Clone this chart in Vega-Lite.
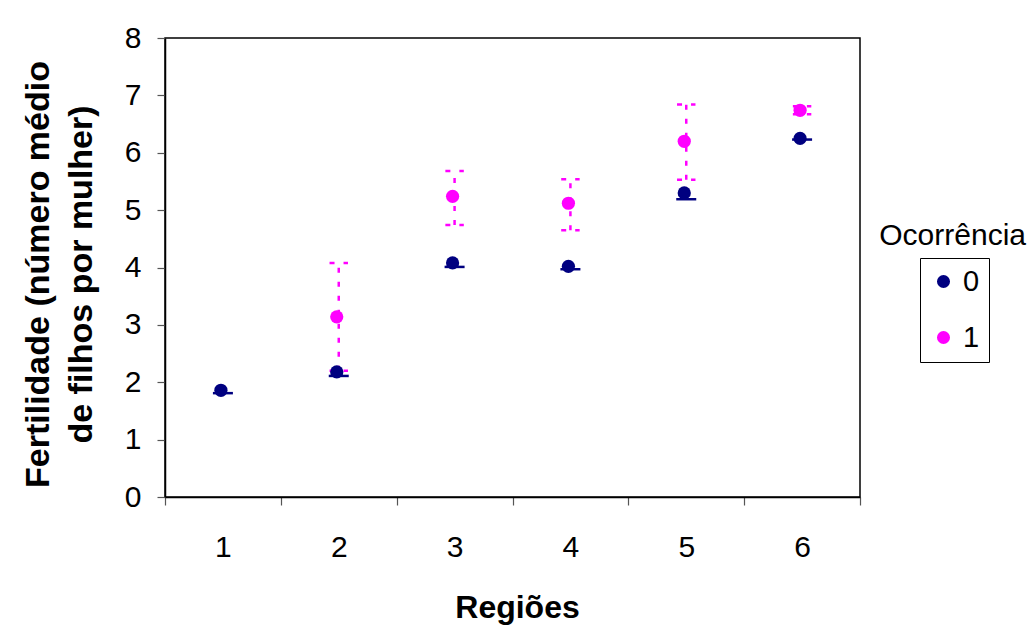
{
  "$schema": "https://vega.github.io/schema/vega-lite/v6.json",
  "width": 695,
  "height": 459,
  "autosize": {"type": "none"},
  "padding": {"left": 165, "top": 38, "right": 169, "bottom": 135},
  "background": "white",
  "title": {
    "text": "Ocorrência",
    "anchor": "end",
    "frame": "group",
    "orient": "top",
    "offset": 0,
    "dx": 166,
    "dy": 252,
    "baseline": "alphabetic",
    "font": "Liberation Sans",
    "fontSize": 30,
    "fontWeight": "normal",
    "color": "black"
  },
  "config": {
    "font": "Liberation Sans",
    "view": {"stroke": "black", "strokeWidth": 1.5},
    "axis": {
      "labelFont": "Liberation Sans",
      "labelFontSize": 30,
      "labelColor": "black",
      "titleFont": "Liberation Sans",
      "titleColor": "black",
      "domainColor": "black",
      "domainWidth": 1.5,
      "tickColor": "#555555",
      "tickWidth": 1.2,
      "tickSize": 8,
      "grid": false
    }
  },
  "data": {
    "values": [
      {"regiao": "1", "ocorrencia": "0", "fert": 1.86, "lo": 1.81, "hi": 1.86},
      {"regiao": "2", "ocorrencia": "0", "fert": 2.18, "lo": 2.11, "hi": 2.18},
      {"regiao": "3", "ocorrencia": "0", "fert": 4.08, "lo": 4.01, "hi": 4.08},
      {"regiao": "4", "ocorrencia": "0", "fert": 4.02, "lo": 3.97, "hi": 4.02},
      {"regiao": "5", "ocorrencia": "0", "fert": 5.30, "lo": 5.19, "hi": 5.30},
      {"regiao": "6", "ocorrencia": "0", "fert": 6.25, "lo": 6.23, "hi": 6.25},
      {"regiao": "2", "ocorrencia": "1", "fert": 3.14, "lo": 2.20, "hi": 4.08},
      {"regiao": "3", "ocorrencia": "1", "fert": 5.24, "lo": 4.74, "hi": 5.68},
      {"regiao": "4", "ocorrencia": "1", "fert": 5.12, "lo": 4.65, "hi": 5.54},
      {"regiao": "5", "ocorrencia": "1", "fert": 6.20, "lo": 5.53, "hi": 6.84},
      {"regiao": "6", "ocorrencia": "1", "fert": 6.74, "lo": 6.67, "hi": 6.81}
    ]
  },
  "encoding": {
    "x": {
      "field": "regiao",
      "type": "ordinal",
      "scale": {"paddingInner": 0, "paddingOuter": 0},
      "axis": {
        "title": "Regiões",
        "labelAngle": 0,
        "tickBand": "extent",
        "labelPadding": 27,
        "titleFontSize": 32,
        "titleFontWeight": "bold",
        "titleBaseline": "alphabetic",
        "titleX": 352,
        "titleY": 120
      }
    }
  },
  "resolve": {"scale": {"color": "independent"}, "legend": {"color": "independent"}},
  "layer": [
    {
      "transform": [{"filter": "datum.ocorrencia == '0'"}],
      "mark": {"type": "rule", "strokeWidth": 2.5},
      "encoding": {
        "y": {"field": "lo", "type": "quantitative"},
        "y2": {"field": "hi"},
        "color": {"field": "ocorrencia", "type": "nominal", "scale": {"domain": ["0", "1"], "range": ["#000080", "#FF00FF"]}, "legend": null}
      }
    },
    {
      "transform": [{"filter": "datum.ocorrencia == '1'"}],
      "mark": {"type": "rule", "strokeWidth": 2.5, "strokeDash": [5, 9]},
      "encoding": {
        "y": {"field": "lo", "type": "quantitative"},
        "y2": {"field": "hi"},
        "color": {"field": "ocorrencia", "type": "nominal", "scale": {"domain": ["0", "1"], "range": ["#000080", "#FF00FF"]}, "legend": null}
      }
    },
    {
      "transform": [{"filter": "datum.ocorrencia == '0'"}],
      "mark": {"type": "point", "shape": "M-1,0L1,0", "filled": false, "size": 400, "strokeWidth": 2.5, "opacity": 1},
      "encoding": {
        "y": {"field": "lo", "type": "quantitative"},
        "color": {"field": "ocorrencia", "type": "nominal", "scale": {"domain": ["0", "1"], "range": ["#000080", "#FF00FF"]}, "legend": null}
      }
    },
    {
      "transform": [{"filter": "datum.ocorrencia == '1'"}],
      "mark": {"type": "point", "shape": "M-1,0L1,0", "filled": false, "size": 340, "strokeWidth": 2.5, "strokeDash": [5, 9], "opacity": 1},
      "encoding": {
        "y": {"field": "lo", "type": "quantitative"},
        "color": {"field": "ocorrencia", "type": "nominal", "scale": {"domain": ["0", "1"], "range": ["#000080", "#FF00FF"]}, "legend": null}
      }
    },
    {
      "transform": [{"filter": "datum.ocorrencia == '1'"}],
      "mark": {"type": "point", "shape": "M-1,0L1,0", "filled": false, "size": 340, "strokeWidth": 2.5, "strokeDash": [5, 9], "opacity": 1},
      "encoding": {
        "y": {"field": "hi", "type": "quantitative"},
        "color": {"field": "ocorrencia", "type": "nominal", "scale": {"domain": ["0", "1"], "range": ["#000080", "#FF00FF"]}, "legend": null}
      }
    },
    {
      "mark": {"type": "circle", "size": 175, "opacity": 1, "xOffset": -2},
      "encoding": {
        "y": {
          "field": "fert",
          "type": "quantitative",
          "scale": {"domain": [0, 8], "nice": false, "zero": true},
          "axis": {
            "title": ["Fertilidade (número médio", "de filhos por mulher)"],
            "values": [0, 1, 2, 3, 4, 5, 6, 7, 8],
            "format": "d",
            "labelPadding": 16,
            "titleFontSize": 34,
            "titleFontWeight": "bold",
            "titleLineHeight": 43,
            "titleBaseline": "alphabetic",
            "titleAnchor": "middle",
            "titleX": -117,
            "titleY": 236
          }
        },
        "color": {
          "field": "ocorrencia",
          "type": "nominal",
          "scale": {"domain": ["0", "1"], "range": ["#000080", "#FF00FF"]},
          "legend": {
            "title": null,
            "orient": "none",
            "legendX": 755,
            "legendY": 220,
            "strokeColor": "black",
            "padding": 9,
            "symbolType": "circle",
            "symbolSize": 170,
            "symbolStrokeWidth": 0,
            "labelFontSize": 29,
            "labelFont": "Liberation Sans",
            "labelColor": "black",
            "labelOffset": 5,
            "rowPadding": 26
          }
        }
      }
    }
  ]
}
